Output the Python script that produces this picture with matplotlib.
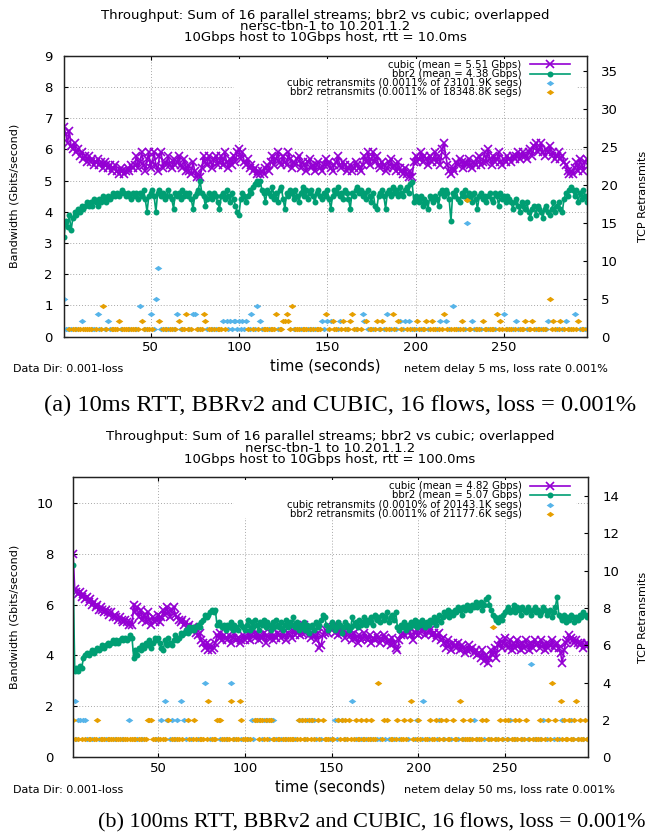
import matplotlib
matplotlib.use('Agg')
import matplotlib.pyplot as plt
from matplotlib.patches import Rectangle

# ---- panel (a): 10 ms rtt, one value per second, t = 1..297 ----
a_cubic = [
    6.7, 6.5, 6.2, 6.6, 6.1, 6.0, 6.2, 5.9, 6.0, 5.8,
    5.9, 5.7, 5.8, 5.6, 5.8, 5.6, 5.7, 5.5, 5.6, 5.7,
    5.5, 5.6, 5.4, 5.6, 5.5, 5.4, 5.5, 5.3, 5.4, 5.5,
    5.3, 5.2, 5.4, 5.3, 5.2, 5.3, 5.4, 5.3, 5.5, 5.4,
    5.5, 5.8, 5.4, 5.6, 5.9, 5.5, 5.3, 5.7, 5.9, 5.4,
    5.6, 5.9, 5.5, 5.3, 5.8, 5.9, 5.4, 5.6, 5.5, 5.8,
    5.5, 5.4, 5.7, 5.5, 5.6, 5.8, 5.5, 5.4, 5.7, 5.3,
    5.5, 5.3, 5.2, 5.6, 5.3, 5.1, 5.2, 5.1, 5.4, 5.8,
    5.6, 5.5, 5.8, 5.6, 5.4, 5.7, 5.8, 5.5, 5.6, 5.8,
    5.5, 5.9, 5.6, 5.4, 5.7, 5.5, 5.8, 5.6, 5.9, 6.0,
    5.7, 5.9, 5.6, 5.5, 5.7, 5.4, 5.5, 5.3, 5.4, 5.2,
    5.3, 5.2, 5.3, 5.2, 5.4, 5.5, 5.3, 5.6, 5.8, 5.5,
    5.7, 5.9, 5.6, 5.5, 5.8, 5.6, 5.5, 5.9, 5.7, 5.4,
    5.6, 5.5, 5.7, 5.8, 5.4, 5.6, 5.5, 5.3, 5.6, 5.7,
    5.4, 5.5, 5.3, 5.5, 5.6, 5.4, 5.3, 5.5, 5.7, 5.5,
    5.6, 5.4, 5.3, 5.5, 5.6, 5.8, 5.5, 5.4, 5.6, 5.5,
    5.3, 5.4, 5.5, 5.3, 5.4, 5.6, 5.5, 5.4, 5.3, 5.5,
    5.8, 5.6, 5.9, 5.5, 5.7, 5.9, 5.6, 5.8, 5.5, 5.4,
    5.6, 5.5, 5.3, 5.4, 5.6, 5.7, 5.4, 5.5, 5.3, 5.6,
    5.4, 5.3, 5.2, 5.4, 5.2, 5.1, 5.3, 5.1, 5.6, 5.8,
    5.6, 5.7, 5.9, 5.6, 5.8, 5.7, 5.5, 5.8, 5.6, 5.7,
    5.9, 5.6, 5.8, 5.5, 6.0, 6.2, 5.8, 5.5, 5.3, 5.2,
    5.4, 5.3, 5.6, 5.5, 5.7, 5.6, 5.4, 5.6, 5.5, 5.7,
    5.5, 5.4, 5.6, 5.5, 5.7, 5.8, 5.5, 5.6, 5.9, 5.6,
    6.0, 5.7, 5.5, 5.8, 5.6, 5.7, 5.9, 5.6, 5.5, 5.7,
    5.6, 5.8, 5.7, 5.6, 5.8, 5.7, 5.8, 5.9, 5.7, 5.8,
    5.9, 5.8, 5.7, 5.9, 6.0, 5.8, 6.1, 6.2, 5.9, 6.0,
    6.2, 5.9, 5.8, 6.0, 5.9, 6.1, 5.8, 5.9, 5.7, 5.8,
    5.9, 5.7, 5.8, 5.6, 5.5, 5.3, 5.2, 5.3, 5.2, 5.4,
    5.6, 5.3, 5.7, 5.5, 5.3, 5.6, 5.7,
]
a_bbr2 = [
    3.2, 3.7, 3.5, 3.9, 3.4, 3.8, 4.0, 3.9, 4.1, 4.0,
    4.2, 4.1, 4.2, 4.3, 4.2, 4.3, 4.2, 4.4, 4.3, 4.2,
    4.4, 4.3, 4.5, 4.4, 4.3, 4.5, 4.4, 4.5, 4.6, 4.5,
    4.6, 4.5, 4.6, 4.7, 4.6, 4.5, 4.6, 4.5, 4.4, 4.6,
    4.5, 4.6, 4.4, 4.6, 4.5, 4.7, 4.4, 4.0, 4.5, 4.6,
    4.7, 4.5, 4.0, 4.6, 4.7, 4.5, 4.6, 4.4, 4.5, 4.7,
    4.5, 4.4, 4.1, 4.6, 4.5, 4.6, 4.4, 4.7, 4.5, 4.6,
    4.5, 4.6, 4.4, 4.1, 4.5, 4.6, 4.7, 5.0, 4.6, 4.5,
    4.2, 4.4, 4.6, 4.5, 4.4, 4.6, 4.5, 4.3, 4.1, 4.5,
    4.6, 4.4, 4.7, 4.5, 4.3, 4.6, 4.4, 4.2, 4.0, 3.9,
    4.4, 4.6, 4.5, 4.3, 4.5, 4.7, 4.6, 4.8, 4.9, 5.0,
    4.9, 5.0, 4.7, 4.6, 4.3, 4.7, 4.6, 4.5, 4.8, 4.4,
    4.6, 4.3, 4.7, 4.8, 4.4, 4.1, 4.6, 4.5, 4.7, 4.6,
    4.4, 4.7, 4.5, 4.3, 4.6, 4.8, 4.5, 4.7, 4.4, 4.6,
    4.7, 4.5, 4.3, 4.6, 4.7, 4.5, 4.4, 4.6, 4.5, 4.7,
    4.4, 4.1, 4.5, 4.7, 4.6, 4.8, 4.5, 4.6, 4.4, 4.7,
    4.6, 4.4, 4.1, 4.6, 4.5, 4.7, 4.8, 4.6, 4.7, 4.5,
    4.6, 4.4, 4.7, 4.5, 4.3, 4.6, 4.2, 4.1, 4.5, 4.6,
    4.7, 4.5, 4.1, 4.6, 4.7, 4.5, 4.8, 4.6, 4.7, 4.5,
    4.8, 4.6, 4.5, 4.7, 4.8, 4.6, 4.9, 4.95, 4.3, 4.5,
    4.4, 4.3, 4.5, 4.2, 4.4, 4.3, 4.1, 4.5, 4.4, 4.3,
    4.5, 4.4, 4.2, 4.6, 4.7, 4.5, 4.7, 4.6, 4.4, 3.7,
    4.6, 4.5, 4.7, 4.4, 4.3, 4.6, 4.5, 4.7, 4.4, 4.6,
    4.5, 4.3, 4.6, 4.4, 4.1, 4.5, 4.6, 4.4, 4.5, 4.3,
    4.5, 4.6, 4.4, 4.3, 4.6, 4.5, 4.2, 4.6, 4.4, 4.5,
    4.3, 4.5, 4.4, 4.3, 4.1, 4.3, 4.4, 4.2, 4.0, 4.3,
    4.2, 4.1, 4.3, 4.0, 3.8, 4.1, 4.2, 3.9, 4.2, 4.1,
    4.0, 3.8, 4.1, 4.2, 4.0, 3.9, 4.1, 4.3, 4.0, 4.2,
    4.3, 4.1, 4.0, 4.4, 4.6, 4.5, 4.7, 4.8, 4.7, 4.5,
    4.7, 4.3, 4.6, 4.4, 4.7, 4.5, 4.3,
]
# seconds with 1, 2, 3 retransmits, then the odd larger counts
a_cub_r1 = [2, 3, 5, 8, 17, 18, 21, 24, 27, 33, 38, 42, 47, 52, 56, 58, 60, 63, 67, 72,
            77, 82, 85, 87, 94, 96, 99, 101, 103, 106, 109, 113, 117, 122, 131, 135, 139,
            141, 143, 148, 156, 161, 166, 173, 176, 179, 182, 186, 189, 193, 198, 200,
            203, 207, 212, 219, 224, 228, 233, 235, 237, 241, 245, 252, 255, 258, 263,
            268, 271, 274, 280, 283, 287, 293, 296]
a_cub_r2 = [11, 26, 91, 93, 95, 97, 98, 100, 102, 104, 112, 147, 150, 152, 157, 171, 191,
            194, 196, 214, 217, 232, 257, 275, 285]
a_cub_r3 = [20, 50, 65, 74, 75, 107, 170, 184, 250, 290]
a_cub_rx_t = [1, 44, 53, 54, 110, 221, 229]
a_cub_rx_n = [5, 4, 5, 9, 4, 4, 15]
a_bbr_r1 = [4, 6, 7, 9, 10, 12, 13, 14, 15, 16, 19, 22, 25, 28, 29, 30, 31, 34, 35, 36,
            37, 39, 40, 41, 43, 46, 48, 49, 51, 57, 59, 61, 62, 64, 68, 69, 71, 73, 76,
            78, 79, 83, 84, 86, 88, 89, 90, 92, 105, 108, 111, 114, 115, 116, 118, 119,
            120, 123, 124, 129, 132, 133, 134, 136, 137, 138, 140, 142, 144, 145, 146,
            151, 154, 155, 158, 160, 162, 165, 167, 169, 174, 175, 177, 180, 183, 185,
            188, 192, 195, 197, 199, 202, 204, 205, 208, 210, 211, 213, 215, 218, 220,
            222, 223, 225, 227, 230, 231, 234, 236, 239, 240, 242, 243, 244, 247, 249,
            251, 253, 254, 256, 259, 260, 261, 264, 265, 267, 269, 270, 272, 273, 277,
            279, 281, 284, 286, 288, 289, 291, 294, 295, 297]
a_bbr_r2 = [32, 45, 55, 66, 81, 125, 126, 128, 153, 159, 163, 172, 178, 181, 190, 201,
            206, 209, 226, 238, 248, 262, 266, 278, 282, 292]
a_bbr_r3 = [70, 80, 121, 127, 149, 164, 187, 216, 246]
a_bbr_rx_t = [23, 130, 229, 276]
a_bbr_rx_n = [4, 4, 18, 5]

# ---- panel (b): 100 ms rtt, t = 1..298 ----
b_cubic = [
    8.0, 6.6, 6.5, 6.4, 6.5, 6.3, 6.4, 6.2, 6.3, 6.1,
    6.2, 6.0, 6.1, 5.9, 6.0, 5.8, 5.9, 5.8, 5.7, 5.8,
    5.7, 5.6, 5.7, 5.5, 5.6, 5.5, 5.4, 5.5, 5.4, 5.3,
    5.4, 5.3, 5.2, 5.3, 5.2, 6.0, 5.7, 5.9, 5.5, 5.8,
    5.4, 5.6, 5.3, 5.7, 5.4, 5.2, 5.5, 5.3, 5.4, 5.6,
    5.3, 5.5, 5.8, 5.6, 5.9, 5.7, 5.5, 5.8, 5.9, 5.6,
    5.5, 5.4, 5.3, 5.4, 5.2, 5.3, 5.1, 5.2, 5.0, 5.1,
    5.0, 4.9, 4.8, 4.9, 4.6, 4.5, 4.3, 4.5, 4.2, 4.4,
    4.2, 4.3, 4.5, 4.8, 4.7, 4.9, 4.6, 4.8, 4.7, 4.6,
    4.8, 4.5, 4.7, 4.9, 4.6, 4.7, 4.5, 4.6, 4.8, 4.6,
    4.7, 4.9, 4.6, 4.8, 5.0, 4.7, 4.9, 4.6, 4.8, 4.7,
    4.9, 4.5, 4.8, 4.7, 4.9, 4.6, 4.8, 4.7, 4.9, 4.8,
    4.7, 4.9, 4.8, 4.6, 4.9, 4.8, 4.7, 5.0, 4.8, 4.9,
    5.1, 4.8, 4.9, 5.2, 4.9, 5.0, 4.8, 4.7, 4.9, 4.8,
    4.6, 4.9, 4.3, 4.4, 4.8, 4.9, 5.0, 4.9, 5.1, 5.0,
    5.1, 4.9, 5.2, 4.8, 5.0, 4.9, 5.1, 4.7, 4.9, 5.0,
    4.8, 4.6, 4.9, 4.7, 4.5, 4.8, 4.6, 4.7, 4.9, 4.7,
    4.6, 4.8, 4.5, 4.7, 4.6, 4.8, 4.7, 4.5, 4.6, 4.8,
    4.7, 4.5, 4.6, 4.4, 4.7, 4.5, 4.3, 4.2, 4.6, 4.8,
    4.9, 4.8, 5.0, 4.9, 5.1, 4.8, 4.6, 4.9, 5.0, 4.8,
    4.9, 5.1, 5.0, 4.8, 5.2, 4.9, 5.0, 4.8, 4.9, 4.7,
    4.8, 4.9, 4.6, 4.7, 4.5, 4.3, 4.6, 4.4, 4.2, 4.5,
    4.4, 4.3, 4.5, 4.2, 4.4, 4.3, 4.1, 4.2, 4.4, 4.2,
    4.3, 4.1, 4.2, 4.0, 4.1, 3.9, 4.2, 3.8, 4.0, 3.7,
    3.9, 4.2, 4.0, 4.3, 3.9, 4.4, 4.6, 4.3, 4.5, 4.7,
    4.4, 4.3, 4.6, 4.2, 4.5, 4.3, 4.6, 4.4, 4.2, 4.5,
    4.3, 4.6, 4.4, 4.2, 4.5, 4.3, 4.6, 4.4, 4.5, 4.3,
    4.6, 4.4, 4.2, 4.5, 4.3, 4.4, 4.6, 4.3, 4.4, 4.5,
    4.3, 4.1, 3.7, 4.2, 4.5, 4.6, 4.8, 4.7, 4.6, 4.5,
    4.6, 4.5, 4.4, 4.5, 4.3, 4.4, 4.5, 4.4,
]
b_bbr2 = [
    7.55, 3.4, 3.5, 3.4, 3.6, 3.5, 3.9, 4.0, 4.1, 4.0,
    4.1, 4.2, 4.1, 4.2, 4.3, 4.2, 4.3, 4.4, 4.3, 4.4,
    4.5, 4.4, 4.5, 4.6, 4.5, 4.6, 4.5, 4.6, 4.7, 4.6,
    4.7, 4.6, 4.7, 4.8, 4.7, 3.9, 4.2, 4.0, 4.3, 4.2,
    4.4, 4.3, 4.5, 4.4, 4.6, 4.3, 4.5, 4.7, 4.6, 4.7,
    4.5, 4.3, 4.2, 4.6, 4.4, 4.7, 4.5, 4.4, 4.6, 4.8,
    4.6, 4.7, 4.9, 4.8, 4.9, 5.0, 4.9, 5.1, 5.0, 5.1,
    5.0, 5.1, 5.2, 5.1, 5.3, 5.4, 5.6, 5.5, 5.6, 5.7,
    5.8, 5.7, 5.8, 5.2, 5.3, 5.2, 5.1, 5.2, 5.0, 5.2,
    5.1, 5.3, 5.0, 5.2, 5.1, 5.0, 5.3, 5.2, 5.1, 5.0,
    5.2, 5.4, 5.0, 5.3, 5.1, 5.4, 5.2, 5.0, 5.3, 5.2,
    5.4, 5.1, 5.3, 5.2, 5.0, 5.3, 5.1, 5.4, 5.2, 5.1,
    5.3, 5.0, 5.2, 5.4, 5.1, 5.3, 5.2, 5.5, 5.1, 5.3,
    5.0, 5.2, 5.1, 5.3, 5.0, 5.2, 4.9, 5.1, 5.2, 5.0,
    5.3, 5.1, 5.2, 5.4, 5.6, 5.5, 5.2, 5.0, 5.1, 5.3,
    5.2, 5.0, 5.1, 5.3, 5.2, 4.9, 5.1, 5.3, 5.2, 5.0,
    5.1, 5.5, 5.2, 5.3, 5.1, 5.4, 5.2, 5.3, 5.5, 5.2,
    5.4, 5.3, 5.5, 5.2, 5.6, 5.4, 5.5, 5.3, 5.6, 5.4,
    5.5, 5.7, 5.3, 5.5, 5.6, 5.4, 5.7, 5.1, 5.0, 5.2,
    5.1, 5.3, 5.0, 5.2, 5.1, 5.3, 5.2, 5.4, 5.1, 5.3,
    5.2, 5.4, 5.3, 5.1, 5.3, 5.2, 5.4, 5.3, 5.5, 5.2,
    5.4, 5.6, 5.3, 5.5, 5.7, 5.6, 5.8, 5.5, 5.7, 5.6,
    5.8, 5.7, 5.9, 5.8, 5.6, 5.9, 5.8, 6.0, 5.9, 5.8,
    6.0, 5.9, 6.1, 5.9, 6.0, 6.1, 5.8, 6.0, 6.2, 6.3,
    6.0, 5.8, 5.6, 5.5, 5.4, 5.3, 5.5, 5.4, 5.6, 5.7,
    5.8, 5.9, 5.7, 5.8, 6.0, 5.7, 5.9, 5.8, 5.6, 5.9,
    5.8, 5.7, 5.9, 5.8, 5.6, 5.8, 5.9, 5.7, 5.8, 5.6,
    5.7, 5.9, 5.8, 5.6, 5.7, 5.8, 5.5, 5.7, 5.9, 6.3,
    5.6, 5.5, 5.4, 5.6, 5.3, 5.5, 5.4, 5.6, 5.5, 5.3,
    5.5, 5.4, 5.6, 5.5, 5.7, 5.6, 5.5, 5.6,
]
b_cub_r1 = [3, 9, 12, 16, 20, 25, 29, 38, 41, 49, 57, 60, 66, 69, 73, 80, 86, 89, 94, 98,
            102, 105, 110, 114, 118, 121, 124, 129, 135, 141, 144, 149, 153, 158, 164,
            167, 170, 173, 176, 178, 181, 183, 186, 189, 194, 198, 202, 206, 211, 215,
            219, 223, 226, 230, 234, 238, 241, 245, 249, 252, 256, 260, 263, 267, 270,
            274, 278, 281, 285, 289, 292, 295, 297]
b_cub_r2 = [4, 5, 7, 8, 33, 52, 55, 58, 61, 65, 104, 106, 108, 111, 113, 115, 116, 131,
            133, 136, 138, 140, 152, 154, 156, 199, 212, 232, 253, 272, 283, 288]
b_cub_r3 = [2, 54, 63, 162, 203]
b_cub_rx_t = [77, 92, 265]
b_cub_rx_n = [4, 4, 5]
b_bbr_r1 = [2, 4, 6, 8, 10, 11, 13, 14, 17, 18, 19, 21, 22, 23, 24, 26, 27, 28, 30, 31,
            32, 34, 35, 36, 37, 39, 40, 42, 43, 47, 48, 50, 51, 53, 54, 58, 59, 61, 62,
            64, 68, 70, 72, 74, 75, 76, 78, 81, 82, 83, 87, 88, 90, 91, 93, 95, 96, 99,
            100, 101, 103, 108, 111, 113, 116, 117, 119, 120, 122, 123, 125, 126, 127,
            128, 130, 132, 134, 136, 138, 140, 143, 146, 147, 148, 150, 151, 155, 157,
            159, 161, 163, 165, 166, 168, 169, 171, 172, 174, 175, 179, 184, 185, 187,
            190, 191, 193, 197, 199, 201, 204, 205, 208, 209, 212, 214, 217, 218, 221,
            222, 225, 227, 228, 229, 231, 233, 235, 236, 240, 242, 244, 246, 248, 251,
            254, 255, 257, 259, 261, 264, 266, 268, 269, 271, 273, 276, 280, 283, 285,
            286, 288, 289, 292, 294, 295, 297, 298]
b_bbr_r2 = [1, 15, 44, 45, 46, 56, 67, 71, 84, 85, 86, 98, 106, 107, 109, 110, 112, 114,
            115, 131, 133, 135, 137, 139, 142, 145, 154, 156, 158, 160, 164, 167, 170,
            173, 180, 182, 188, 192, 195, 200, 207, 210, 213, 216, 220, 226, 230, 237,
            239, 247, 250, 252, 256, 258, 262, 270, 275, 279, 284, 287, 290, 293, 296]
b_bbr_r3 = [79, 92, 97, 196, 224, 282, 291]
b_bbr_rx_t = [177, 243, 277]
b_bbr_rx_n = [4, 7, 4]

W, H = 656, 838
PURPLE, GREEN, BLUE, ORANGE = '#9400d3', '#009e73', '#56b4e9', '#e69f00'
DIAMOND = [(-1, 0), (0, 0.7), (1, 0), (0, -0.7)]
CUBIC_ST = dict(color=PURPLE, lw=1.2, marker='x', ms=5.5, mew=1.2)
BBR2_ST = dict(color=GREEN, lw=1.2, marker='o', ms=4.3, mew=0)
DOT_ST = dict(ls='none', marker=DIAMOND, ms=5.5, mew=0)

fig = plt.figure(figsize=(W / 100, H / 100), dpi=100)
renderer = fig.canvas.get_renderer()


def fx(x):
    return x / W


def fy(y):
    return 1 - y / H


def fit(txt, width):
    # scale a text so that it spans `width` pixels
    w = txt.get_window_extent(renderer).width
    txt.set_fontsize(txt.get_fontsize() * width / w)


def retrans(r1, r2, r3, xt, xn):
    t = r1 + r2 + r3 + xt
    n = [1] * len(r1) + [2] * len(r2) + [3] * len(r3) + xn
    return t, n


def panel(box, cubic, bbr2, cub_rt, bbr_rt, ylim, yticks, y2lim, y2ticks,
          labels, title, netem, lpad, cx):
    x0, y0, x1, y1 = box
    t = list(range(1, len(cubic) + 1))
    ax = fig.add_axes([fx(x0), fy(y1), fx(x1 - x0), (y1 - y0) / H])
    ax2 = ax.twinx()

    ax.plot(t, cubic, zorder=3, **CUBIC_ST)
    ax.plot(t, bbr2, zorder=3, **BBR2_ST)
    ax2.plot(cub_rt[0], cub_rt[1], color=BLUE, **DOT_ST)
    ax2.plot(bbr_rt[0], bbr_rt[1], color=ORANGE, **DOT_ST)

    ax.set_xlim(1, len(cubic))
    ax.set_ylim(*ylim)
    ax2.set_ylim(*y2lim)
    ax.set_xticks([50, 100, 150, 200, 250])
    ax.set_yticks(yticks)
    ax2.set_yticks(y2ticks)
    ax.grid(True, color='#a8a8a8', linestyle=(0, (1, 2)), linewidth=0.7)
    ax.tick_params(direction='in', length=3, labelsize=9.5, top=True, right=False)
    ax.tick_params(axis='x', pad=3.5)
    ax.tick_params(axis='y', pad=lpad)
    ax2.tick_params(direction='in', length=3, labelsize=9.5, pad=10)
    for a in (ax, ax2):
        for s in a.spines.values():
            s.set_linewidth(0.9)
            s.set_color('#222222')

    ax.set_ylabel('Bandwidth (Gbits/second)', fontsize=8)
    ax.yaxis.set_label_coords(fx(20), fy((y0 + y1) / 2), transform=fig.transFigure)
    ax2.set_ylabel('TCP Retransmits', fontsize=8)
    ax2.yaxis.set_label_coords(fx(638), fy((y0 + y1) / 2), transform=fig.transFigure)

    fig.text(fx(cx), fy(y0 - 47), '\n'.join(title), ha='center', va='top',
             multialignment='center', fontsize=9.5, linespacing=0.84)

    # opaque key: labels right aligned, samples on the right
    ax2.add_patch(Rectangle((fx(234), fy(y0 + 41)), fx(342), 38 / H, transform=fig.transFigure,
                            facecolor='white', edgecolor='none', zorder=4))
    key = ax2.text(fx(521.7), fy(y0 + 3.8), '\n'.join(labels), ha='right', va='top',
                   multialignment='right', fontsize=7.3, linespacing=0.9,
                   transform=fig.transFigure, zorder=5)
    bb = key.get_window_extent(renderer)
    styles = [CUBIC_ST, BBR2_ST, dict(DOT_ST, color=BLUE), dict(DOT_ST, color=ORANGE)]
    for i, st in enumerate(styles):
        yy = (bb.y1 - (bb.y1 - bb.y0) * (i + 0.5) / 4) / H
        if st.get('ls') != 'none':
            ax2.plot([fx(530), fx(570)], [yy, yy], transform=fig.transFigure, zorder=5,
                     clip_on=False, **dict(st, marker=None))
        ax2.plot([fx(550)], [yy], transform=fig.transFigure, zorder=5, clip_on=False,
                 **dict(st, ls='none'))

    # notes under the axis
    tx = fig.text(fx(cx), fy(y1 + 29.5), 'time (seconds)', ha='center', va='center', fontsize=10)
    fit(tx, 110)
    tx = fig.text(fx(13), fy(y1 + 32.5), 'Data Dir: 0.001-loss', ha='left', va='center',
                  fontsize=7)
    fit(tx, 111)
    tx = fig.text(fx(404), fy(y1 + 32.5), netem[0], ha='left', va='center', fontsize=7)
    fit(tx, netem[1])
    return ax


panel((64, 55.7, 587, 336.6), a_cubic, a_bbr2,
      retrans(a_cub_r1, a_cub_r2, a_cub_r3, a_cub_rx_t, a_cub_rx_n),
      retrans(a_bbr_r1, a_bbr_r2, a_bbr_r3, a_bbr_rx_t, a_bbr_rx_n),
      (0, 9), range(0, 10), (0, 37), range(0, 36, 5),
      ['cubic (mean = 5.51 Gbps)', 'bbr2 (mean = 4.38 Gbps)',
       'cubic retransmits (0.0011% of 23101.9K segs)',
       'bbr2 retransmits (0.0011% of 18348.8K segs)'],
      ['Throughput: Sum of 16 parallel streams; bbr2 vs cubic; overlapped',
       'nersc-tbn-1 to 10.201.1.2',
       '10Gbps host to 10Gbps host, rtt = 10.0ms'],
      ('netem delay 5 ms, loss rate 0.001%', 203.5), 8, 325)

panel((73, 477.3, 588.3, 757.3), b_cubic, b_bbr2,
      retrans(b_cub_r1, b_cub_r2, b_cub_r3, b_cub_rx_t, b_cub_rx_n),
      retrans(b_bbr_r1, b_bbr_r2, b_bbr_r3, b_bbr_rx_t, b_bbr_rx_n),
      (0, 11), range(0, 11, 2), (0, 15), range(0, 15, 2),
      ['cubic (mean = 4.82 Gbps)', 'bbr2 (mean = 5.07 Gbps)',
       'cubic retransmits (0.0010% of 20143.1K segs)',
       'bbr2 retransmits (0.0011% of 21177.6K segs)'],
      ['Throughput: Sum of 16 parallel streams; bbr2 vs cubic; overlapped',
       'nersc-tbn-1 to 10.201.1.2',
       '10Gbps host to 10Gbps host, rtt = 100.0ms'],
      ('netem delay 50 ms, loss rate 0.001%', 211), 14, 330)

cap = fig.text(fx(44), fy(411), '(a) 10ms RTT, BBRv2 and CUBIC, 16 flows, loss = 0.001%',
               ha='left', va='baseline', family='Liberation Serif', fontsize=14)
fit(cap, 596)
cap = fig.text(fx(98), fy(827), '(b) 100ms RTT, BBRv2 and CUBIC, 16 flows, loss = 0.001%',
               ha='left', va='baseline', family='Liberation Serif', fontsize=14)
fit(cap, 550)

fig.savefig('out.png', dpi=100)
